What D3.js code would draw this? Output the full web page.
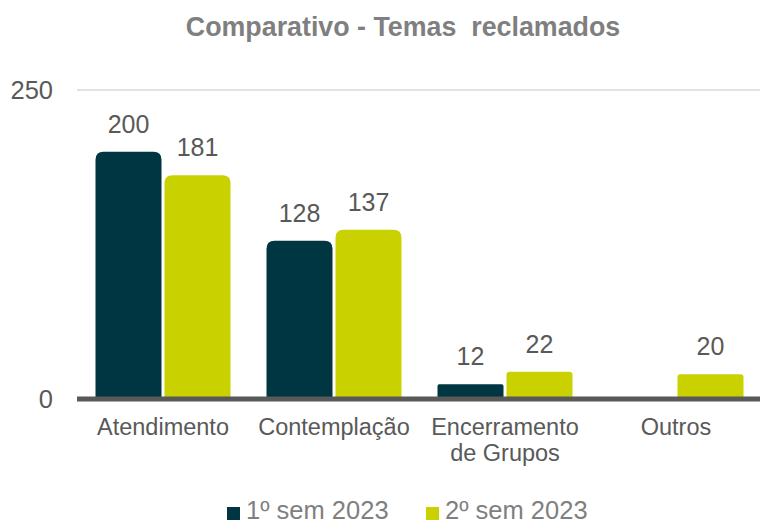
<!DOCTYPE html>
<html>
<head>
<meta charset="utf-8">
<script src="https://cdn.jsdelivr.net/npm/d3@7"></script>
<style>
  html, body { margin: 0; padding: 0; background: #ffffff; }
  svg { display: block; font-family: "Liberation Sans", Arial, sans-serif; }
</style>
</head>
<body>
<svg id="chart" width="760" height="524"></svg>
<script>
// Complaint themes, first vs second half of 2023
const categories = ["Atendimento", "Contemplação", "Encerramento de Grupos", "Outros"];
const categoryLines = [["Atendimento"], ["Contemplação"], ["Encerramento", "de Grupos"], ["Outros"]];
const seriesNames = ["1º sem 2023", "2º sem 2023"];
const sem1 = [200, 128, 12, null];
const sem2 = [181, 137, 22, 20];
const yTicks = [0, 250];

const colors = ["#003641", "#C9D200"];
const textDark = "#595959";
const textLight = "#7f7f7f";

const svg = d3.select("#chart");
const W = 760, H = 524;
const plot = { left: 77.5, right: 761.5, top: 90, bottom: 399 };

const x = d3.scaleBand().domain(categories).range([plot.left, plot.right]).paddingInner(0).paddingOuter(0);
const y = d3.scaleLinear().domain([0, 250]).range([plot.bottom, plot.top]);

const groupInner = 18;  // space between band edge and first bar
const barGap = 3;
const barW = (x.bandwidth() - 2 * groupInner - barGap) / 2;

// Title
svg.append("text")
  .attr("x", 403).attr("y", 36)
  .attr("text-anchor", "middle")
  .attr("font-size", 26.8).attr("font-weight", "bold")
  .attr("fill", textLight)
  .text("Comparativo - Temas\u00a0\u00a0reclamados");

// Gridline at the top tick
svg.append("g").selectAll("line")
  .data(yTicks.filter(t => t > 0))
  .join("line")
  .attr("x1", 77).attr("x2", W)
  .attr("y1", d => y(d)).attr("y2", d => y(d))
  .attr("stroke", "#d9d9d9").attr("stroke-width", 1.5);

// Value axis labels
const yAxis = d3.axisLeft(y).tickValues(yTicks).tickSize(0).tickPadding(24);
const yg = svg.append("g").attr("transform", `translate(77,0)`).call(yAxis);
yg.select(".domain").remove();
yg.selectAll("text")
  .attr("font-family", "Liberation Sans, Arial, sans-serif")
  .attr("font-size", 25.5).attr("fill", textDark);

// Bars with rounded top corners
function topRoundedBar(x0, yTop, w, yBase) {
  const h = yBase - yTop;
  const r = Math.min(8, h * 0.12, w / 2);
  return `M${x0},${yBase}` +
    `V${yTop + r}` +
    `Q${x0},${yTop} ${x0 + r},${yTop}` +
    `H${x0 + w - r}` +
    `Q${x0 + w},${yTop} ${x0 + w},${yTop + r}` +
    `V${yBase}Z`;
}

const series = [sem1, sem2];
const barData = [];
series.forEach((vals, si) => {
  vals.forEach((v, ci) => {
    if (v === null || v === undefined) return;
    barData.push({ cat: categories[ci], value: v, s: si });
  });
});

const barX = d => x(d.cat) + groupInner + d.s * (barW + barGap);

svg.append("g").selectAll("path")
  .data(barData)
  .join("path")
  .attr("d", d => topRoundedBar(barX(d), y(d.value), barW, y(0)))
  .attr("fill", d => colors[d.s]);

// Value labels
svg.append("g").selectAll("text")
  .data(barData)
  .join("text")
  .attr("x", d => barX(d) + barW / 2)
  .attr("y", d => y(d.value) - 19)
  .attr("text-anchor", "middle")
  .attr("font-size", 25).attr("fill", textDark)
  .text(d => d.value);

// Baseline
svg.append("line")
  .attr("x1", 77).attr("x2", W)
  .attr("y1", y(0)).attr("y2", y(0))
  .attr("stroke", "#595959").attr("stroke-width", 5);

// Category labels
const catG = svg.append("g");
categories.forEach((c, i) => {
  const t = catG.append("text")
    .attr("x", x(c) + x.bandwidth() / 2)
    .attr("y", 435)
    .attr("text-anchor", "middle")
    .attr("font-size", 23.5).attr("fill", textDark);
  categoryLines[i].forEach((line, li) => {
    t.append("tspan")
      .attr("x", x(c) + x.bandwidth() / 2)
      .attr("dy", li === 0 ? 0 : 26)
      .text(line);
  });
});

// Legend
const legendX = [227, 426];
const lg = svg.append("g");
seriesNames.forEach((name, i) => {
  lg.append("rect")
    .attr("x", legendX[i]).attr("y", 507)
    .attr("width", 13).attr("height", 13)
    .attr("fill", colors[i]);
  lg.append("text")
    .attr("x", legendX[i] + 19).attr("y", 519)
    .attr("font-size", 25.5).attr("fill", textLight)
    .text(name);
});
</script>
</body>
</html>
